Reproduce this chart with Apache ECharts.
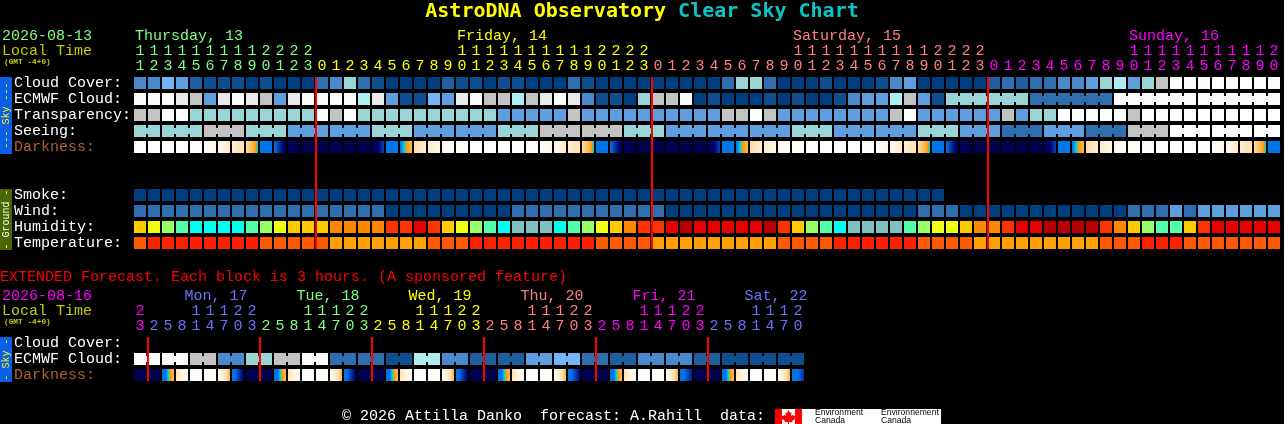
<!DOCTYPE html>
<html>
<head>
<meta charset="utf-8">
<style>html,body{margin:0;padding:0;background:#000}#c{width:1284px;height:424px}</style>
<script src="https://cdn.jsdelivr.net/npm/echarts@6/dist/echarts.min.js"></script>
</head>
<body>
<div id="c"></div>
<script>
// ---------- tick labels ----------
const mainHours = [11,12,13,14,15,16,17,18,19,20,21,22,23,
  0,1,2,3,4,5,6,7,8,9,10,11,12,13,14,15,16,17,18,19,20,21,22,23,
  0,1,2,3,4,5,6,7,8,9,10,11,12,13,14,15,16,17,18,19,20,21,22,23,
  0,1,2,3,4,5,6,7,8,9,10,11,12,13,14,15,16,17,18,19,20];
const extHours = [23,2,5,8,11,14,17,20,23,2,5,8,11,14,17,20,23,2,5,8,11,14,17,20,23,
  2,5,8,11,14,17,20,23,2,5,8,11,14,17,20,23,2,5,8,11,14,17,20];
const mainRows = ['Cloud Cover:','ECMWF Cloud:','Transparency:','Seeing:','Darkness:','','','Smoke:','Wind:','Humidity:','Temperature:'];
const extRows = ['Cloud Cover:','ECMWF Cloud:','Darkness:'];
const mainMidnights = [13,37,61];
const extMidnights = [1,9,17,25,33,41];
const mainDayNames = ['Thursday, 13','Friday, 14','Saturday, 15','Sunday, 16'];
const mainDayCols = [0,23,47,71];
const extDayNames = ['Mon, 17','Tue, 18','Wed, 19','Thu, 20','Fri, 21','Sat, 22'];
const extDayCols = [4,12,20,28,36,44];

// ---------- main forecast, one entry per hour (palette indices) ----------
const cloudCover = [4,4,6,5,2,1,1,1,0,1, 0,0,0,3,4,7,3,1,0,0, 0,0,2,1,1,0,1,1,0,0, 0,3,1,0,0,0,0,0,0,0,
  0,0,3,7,7,3,0,0,0,1, 0,0,0,1,4,5,0,0,0,0, 0,2,3,2,3,3,4,4,5,7, 8,5,7,9,12,12,12,11,11,11, 11,12];
const ecmwfCloud = [12,12,12,10,9,5,10,12,10,9, 5,10,12,12,12,12,8,10,5,1, 1,6,5,10,12,9,9,8,9,10, 12,10,4,1,1,0,7,9,9,12,
  0,1,0,0,0,1,0,1,0,0, 1,4,5,5,8,9,5,1,7,7, 7,7,7,7,3,3,3,3,3,3, 12,12,12,12,12,12,12,12,12,12, 12,12];
const ecmwfGroups = [1,1,1,1,1,1,1,1,1,1,1,1,1,1,1,1,1,1,1,1,1,1,1,1,1,1,1,1,1,
  1,1,1,1,1,1,1,1,1,1,1,1,1,1,1,1,1,1,1,1,1,1,1,1,1,1,1,1,1,6,6,6,6];
const transparency = [9,9,11,11,7,7,7,7,7,7, 7,7,7,11,9,11,7,7,7,7, 7,7,7,7,7,7,5,5,5,5, 5,9,5,5,5,5,5,5,5,5,
  5,5,9,9,11,9,5,5,5,5, 5,5,5,5,9,11,5,5,5,5, 5,5,9,5,7,7,11,11,11,11, 11,9,11,11,11,11,11,11,11,11, 11,11];
const seeing = [7,7,7,7,7,9,9,9,7,7, 7,5,5,5,5,5,5,7,7,7, 5,5,5,5,5,5,7,7,7,9, 9,9,9,9,9,7,7,7,5,5,
  5,5,5,5,5,5,5,7,7,7, 5,5,5,5,5,5,7,7,7,5, 5,5,3,3,3,5,5,5,3,3, 3,9,9,9,11,11,11,11,11,11, 11,11];
const seeingGroups = [2,3,3,3,3,3,3,3,3,3,3,3,3,3,3,3,3,3,3,3,3,3,3,3,3,3,3,2];
const smoke = [0,0,0,0,0,0,0,0,0,0, 0,0,0,0,0,0,0,0,0,0, 0,0,0,0,0,0,0,0,0,0, 0,0,0,0,0,0,0,0,0,0,
  0,0,0,0,0,0,0,0,0,0, 0,0,0,0,0,0,0,0];
const wind = [3,3,3,3,3,3,3,3,3,3, 3,3,3,3,3,3,3,3,0,0, 0,0,0,0,0,0,0,3,3,3, 3,3,3,3,3,3,3,3,0,0,
  0,0,0,0,0,0,0,0,0,0, 0,0,0,0,0,0,3,3,3,0, 0,0,0,0,0,0,0,0,0,0, 0,3,3,3,5,3,5,5,5,5, 5,5];
const humidity = [4,5,6,7,8,8,8,8,7,6, 5,4,4,4,3,3,3,3,2,2, 1,2,4,5,6,7,8,9,9,9, 8,7,6,5,4,3,2,2,1,0,
  1,1,1,1,1,0,2,4,6,7, 8,9,9,9,9,7,6,5,5,4, 3,3,2,1,1,0,0,0,0,2, 3,4,6,7,7,4,2,1,1,1, 1,1];
const temperature = [1,0,0,0,0,0,0,0,0,1, 1,1,1,1,2,2,2,2,2,2, 2,1,1,1,0,0,0,0,0,0, 0,0,0,1,1,1,1,2,2,2,
  2,2,2,2,2,2,1,1,1,1, 0,0,0,0,0,0,1,1,1,1, 2,2,2,2,2,2,2,2,2,1, 1,1,0,0,0,1,1,1,1,1, 1,1];
// darkness level at the left and right edge of each hour block
const darkStart = [0,0,0,0,0,5,22,32,50,72, 80,97,100,100,100,100,100,98,80,71, 52,36,22,7,0,0,0,0,0,5,
  22,32,50,72,80,97,100,100,100,100, 100,98,80,71,52,36,22,7,0,0, 0,0,0,5,22,32,50,72,80,97,
  100,100,100,100,100,98,80,71,52,36, 22,7,0,0,0,0,0,5,22,32, 50,72];
const darkEnd = [0,0,0,0,3,22,36,47,67,78, 94,100,100,100,100,100,100,84,72,58, 32,24,9,0,0,0,0,0,3,22,
  36,47,67,78,94,100,100,100,100,100, 100,84,72,58,32,24,9,0,0,0, 0,0,3,22,36,47,67,78,94,100,
  100,100,100,100,100,84,72,58,32,24, 9,0,0,0,0,0,3,22,36,47, 67,78];

// ---------- extended forecast, one entry per 3 hours ----------
const extEcmwf = [12,12,12,12,9,9,4,4,7,7,9,9,12,12,3,3,3,3,1,1,8,8,4,4,2,2,2,2,5,5,6,6,3,3,2,2,4,4,4,4,2,2,1,1,1,1,1,1];
const extEcmwfGroups = [2,2,2,2,2,2,2,2,2,2,2,2,2,2,2,2,2,2,2,2,2,2,2,2];
const extDarkStart = [100,100,76,45,0,0,15,76, 100,100,76,45,0,0,15,76, 100,100,76,45,0,0,15,76,
  100,100,76,45,0,0,15,76, 100,100,76,45,0,0,15,76, 100,100,76,45,0,0,15,74];
const extDarkEnd = [100,100,58,8,0,6,62,92, 100,100,58,8,0,6,62,92, 100,100,58,8,0,6,62,92,
  100,100,58,8,0,6,62,90, 100,100,58,8,0,6,62,88, 100,100,58,8,0,6,62,86];

// ---------- palettes ----------
const skyPalette = ['#003f7f','#0f4f8f','#1f5f9f','#2f6faf','#4a8aca','#5f9fdf','#75b5f5','#99d5d5','#aeeeee','#c3c3c3','#e9e9e9','#ffffff','#fbfbfb'];
const humidityPalette = ['#b80000','#e60000','#ff3300','#ff8800','#ffcc00','#eeff11','#99ff66','#55ffaa','#00ffee','#80c0c0'];
const temperaturePalette = ['#ff2000','#ff5a00','#ffa000'];
const darkRamp = [[0,'#ffffff'],[25,'#fff5e5'],[50,'#ffdfa8'],[60,'#ffb040'],[64,'#ff9a00'],[65.5,'#40c8a0'],[67,'#00c8ff'],[70,'#0075e8'],[80,'#0075e8'],[84,'#0a45bb'],[91,'#00006a'],[100,'#000050']];
const mainDayColors = ['#80ff80','#ffff00','#ff8080','#ff00ff'];
const extDayColors = ['#ff00ff','#7070ff','#80ff80','#ffff00','#ff8080','#ff00ff','#7070ff'];
const FONT = '"Liberation Mono"';

function hexRgb(h){return [parseInt(h.slice(1,3),16),parseInt(h.slice(3,5),16),parseInt(h.slice(5,7),16)];}
function rampColor(v){
  for(let i=1;i<darkRamp.length;i++){
    if(v<=darkRamp[i][0]){
      const a=darkRamp[i-1],b=darkRamp[i],t=(v-a[0])/(b[0]-a[0]);
      const ca=hexRgb(a[1]),cb=hexRgb(b[1]);
      return 'rgb('+ca.map((c,k)=>Math.round(c+(cb[k]-c)*t)).join(',')+')';
    }
  }
  return darkRamp[darkRamp.length-1][1];
}
function expandGroups(groups){
  const next=[];
  groups.forEach(n=>{for(let i=0;i<n;i++)next.push(i<n-1?1:0);});
  return next;
}
function hourColor(col,cuts,colors){
  let d=0;
  cuts.forEach(c=>{if(col>=c)d++;});
  return colors[d];
}
function cellRows(rowDefs){
  const out=[];
  rowDefs.forEach(def=>{
    const joins=def.groups?expandGroups(def.groups):[];
    def.values.forEach((v,col)=>{
      out.push({value:[col,def.row,v,joins[col]||0],fill:def.palette[v]});
    });
  });
  return out;
}
function cellRenderer(cells){
  return function(params,api){
    const p=api.coord([api.value(0),api.value(1)]);
    const bw=api.size([1,0])[0],bh=api.size([0,1])[1];
    const w=bw-2,h=bh-4,x=p[0]-w/2,y=p[1]-h/2;
    const fill=cells[params.dataIndex].fill;
    const children=[{type:'rect',shape:{x,y,width:w,height:h},style:{fill}}];
    if(api.value(3)) children.push({type:'rect',shape:{x:x+w,y:y+3,width:2,height:h-6},style:{fill}});
    return {type:'group',children};
  };
}
function renderDark(params,api){
  const p=api.coord([api.value(0),api.value(1)]);
  const bw=api.size([1,0])[0],bh=api.size([0,1])[1];
  const w=bw-2,h=bh-4,a=api.value(2),b=api.value(3);
  const stops=[];
  for(let i=0;i<=12;i++)stops.push({offset:i/12,color:rampColor(a+(b-a)*i/12)});
  return {type:'rect',shape:{x:p[0]-w/2,y:p[1]-h/2,width:w,height:h},
    style:{fill:{type:'linear',x:0,y:0,x2:1,y2:0,global:false,colorStops:stops}}};
}
function renderMidnight(params,api){
  const bw=api.size([1,0])[0],bh=api.size([0,1])[1];
  const c0=api.coord([api.value(0),0]),c1=api.coord([api.value(0),api.value(1)]);
  return {type:'rect',shape:{x:c0[0]-bw/2,y:c0[1]-bh/2+2,width:2,height:c1[1]-c0[1]+bh-4},style:{fill:'#ff0000'}};
}
function dayLabelRenderer(names,colors,dx){
  return function(params,api){
    const bw=api.size([1,0])[0];
    const c=api.coord([api.value(0),0]);
    return {type:'text',style:{text:names[params.dataIndex],x:c[0]-bw/2+dx,y:c[1]-47,fill:colors[params.dataIndex],
      font:'15px '+FONT,textAlign:'left',textVerticalAlign:'middle',verticalAlign:'middle'}};
  };
}
function hourAxis(gridIndex,hours,cuts,colors,tens,offset){
  return {type:'category',gridIndex,position:'top',offset,boundaryGap:true,
    axisLine:{show:false},axisTick:{show:false},splitLine:{show:false},
    axisLabel:{show:true,interval:0,hideOverlap:false,margin:1,fontFamily:FONT,fontSize:15},
    data:hours.map((h,i)=>({value:tens?(h>=10?String(Math.floor(h/10)):' '):String(h%10),
      textStyle:{color:hourColor(i,cuts,colors)}}))};
}
function rowAxis(gridIndex,rows){
  return {type:'category',gridIndex,inverse:true,boundaryGap:true,
    axisLine:{show:false},axisTick:{show:false},splitLine:{show:false},
    axisLabel:{show:true,interval:0,align:'left',margin:119,fontFamily:FONT,fontSize:15,padding:[0,0,2,0],
      color:(v)=>v==='Darkness:'?'#b0602c':'#ffffff'},
    data:rows.map((r,i)=>r===''?' '.repeat(i):r)};
}
function customSeries(name,xi,yi,data,renderItem,z){
  return {type:'custom',name,xAxisIndex:xi,yAxisIndex:yi,data,renderItem,silent:true,z:z||2,
    clip:false,encode:{x:0,y:1},animation:false};
}

const mainCells=cellRows([
  {row:0,values:cloudCover,palette:skyPalette},
  {row:1,values:ecmwfCloud,palette:skyPalette,groups:ecmwfGroups},
  {row:2,values:transparency,palette:skyPalette},
  {row:3,values:seeing,palette:skyPalette,groups:seeingGroups},
  {row:7,values:smoke,palette:skyPalette},
  {row:8,values:wind,palette:skyPalette},
  {row:9,values:humidity,palette:humidityPalette},
  {row:10,values:temperature,palette:temperaturePalette}
]);
const extCells=cellRows([{row:1,values:extEcmwf,palette:skyPalette,groups:extEcmwfGroups}]);

function txt(text,x,y,fill,font,extra){
  return Object.assign({type:'text',silent:true,z:5,x,y,style:{text,fill,font:font||('15px '+FONT),textAlign:'left',textVerticalAlign:'middle',verticalAlign:'middle'}},extra||{});
}
function sideBar(y,h,color,text,textColor){
  return [
    {type:'rect',silent:true,z:4,shape:{x:0,y,width:12,height:h},style:{fill:color}},
    {type:'text',silent:true,z:5,x:6,y:y+h/2,rotation:Math.PI/2,
      style:{text,fill:textColor,font:'10px '+FONT,textAlign:'center',textVerticalAlign:'middle',verticalAlign:'middle'}}
  ];
}
const leaf=[[788.5,410],[790,413],[791.5,412.3],[791,416],[793,414.5],[793.5,416],[795.5,415.7],[794.7,418],[795.5,418.6],[792,421],[792.5,422.3],[789,422],[789,424],[788,424],[788,422],[784.5,422.3],[785,421],[781.5,418.6],[782.3,418],[781.5,415.7],[783.5,416],[784,414.5],[786,416],[785.5,412.3],[787,413]];

const option={
  backgroundColor:'#000000',
  animation:false,
  title:[
    {text:'{a|AstroDNA Observatory }{b|Clear Sky Chart}',left:'center',top:2,padding:0,
      textStyle:{rich:{
        a:{fontFamily:'"DejaVu Sans Mono"',fontWeight:'bold',fontSize:20,color:'#ffff00'},
        b:{fontFamily:'"DejaVu Sans Mono"',fontWeight:'bold',fontSize:20,color:'#0cc6c6'}}}},
    {text:'EXTENDED Forecast. Each block is 3 hours. (A sponsored feature)',left:0,top:270,padding:0,
      textStyle:{fontFamily:FONT,fontWeight:'normal',fontSize:15,color:'#ff0000'}}
  ],
  grid:[
    {left:133,top:75,width:1148,height:176,containLabel:false},
    {left:133,top:335,width:672,height:48,containLabel:false}
  ],
  xAxis:[
    hourAxis(0,mainHours,mainMidnights,mainDayColors,false,0),
    hourAxis(0,mainHours,mainMidnights,mainDayColors,true,15),
    hourAxis(1,extHours,extMidnights,extDayColors,false,0),
    hourAxis(1,extHours,extMidnights,extDayColors,true,15)
  ],
  yAxis:[rowAxis(0,mainRows),rowAxis(1,extRows)],
  series:[
    customSeries('Main cells',0,0,mainCells,cellRenderer(mainCells)),
    customSeries('Main darkness',0,0,darkStart.map((a,i)=>[i,4,a,darkEnd[i]]),renderDark),
    customSeries('Main midnight',0,0,mainMidnights.map(c=>[c,10]),renderMidnight,4),
    customSeries('Main days',0,0,mainDayCols.map(c=>[c]),dayLabelRenderer(mainDayNames,mainDayColors,2),3),
    customSeries('Extended cells',2,1,extCells,cellRenderer(extCells)),
    customSeries('Extended darkness',2,1,extDarkStart.map((a,i)=>[i,2,a,extDarkEnd[i]]),renderDark),
    customSeries('Extended midnight',2,1,extMidnights.map(c=>[c,2]),renderMidnight,4),
    customSeries('Extended days',2,1,extDayCols.map(c=>[c]),dayLabelRenderer(extDayNames,extDayColors.slice(1),-4.5),3)
  ],
  graphic:[].concat(
    [txt('2026-08-13',2,36,'#80ff80'),
     txt('Local Time',2,51,'#c8c800'),
     txt('(GMT -4+0)',4,62,'#c8c800','bold 7.8px '+FONT),
     txt('2026-08-16',2,296,'#ff00ff'),
     txt('Local Time',2,311,'#c8c800'),
     txt('(GMT -4+0)',4,322,'#c8c800','bold 7.8px '+FONT)],
    sideBar(77,77,'#0a5fe6','--- Sky ---','#ffff00'),
    sideBar(189,61,'#4a6600','- Ground -','#ffffff'),
    sideBar(337,45,'#0a5fe6','- Sky -','#ffff00'),
    [txt('© 2026 Attilla Danko  forecast: A.Rahill  data:',342,416.5,'#ffffff'),
     {type:'rect',silent:true,z:4,shape:{x:775,y:409,width:166,height:15},style:{fill:'#ffffff'}},
     {type:'rect',silent:true,z:5,shape:{x:775,y:409,width:7,height:15},style:{fill:'#ff0000'}},
     {type:'rect',silent:true,z:5,shape:{x:795,y:409,width:7,height:15},style:{fill:'#ff0000'}},
     {type:'polygon',silent:true,z:5,shape:{points:leaf},style:{fill:'#ff0000'}},
     txt('Environment',815,413,'#000000','8.6px "Liberation Sans"',{z:6}),
     txt('Canada',815,420.5,'#000000','8.6px "Liberation Sans"',{z:6}),
     txt('Environnement',881,413,'#000000','8.6px "Liberation Sans"',{z:6}),
     txt('Canada',881,420.5,'#000000','8.6px "Liberation Sans"',{z:6})]
  )
};
const chart=echarts.init(document.getElementById('c'),null,{renderer:'canvas',width:1284,height:424});
chart.setOption(option);
</script>
</body>
</html>
